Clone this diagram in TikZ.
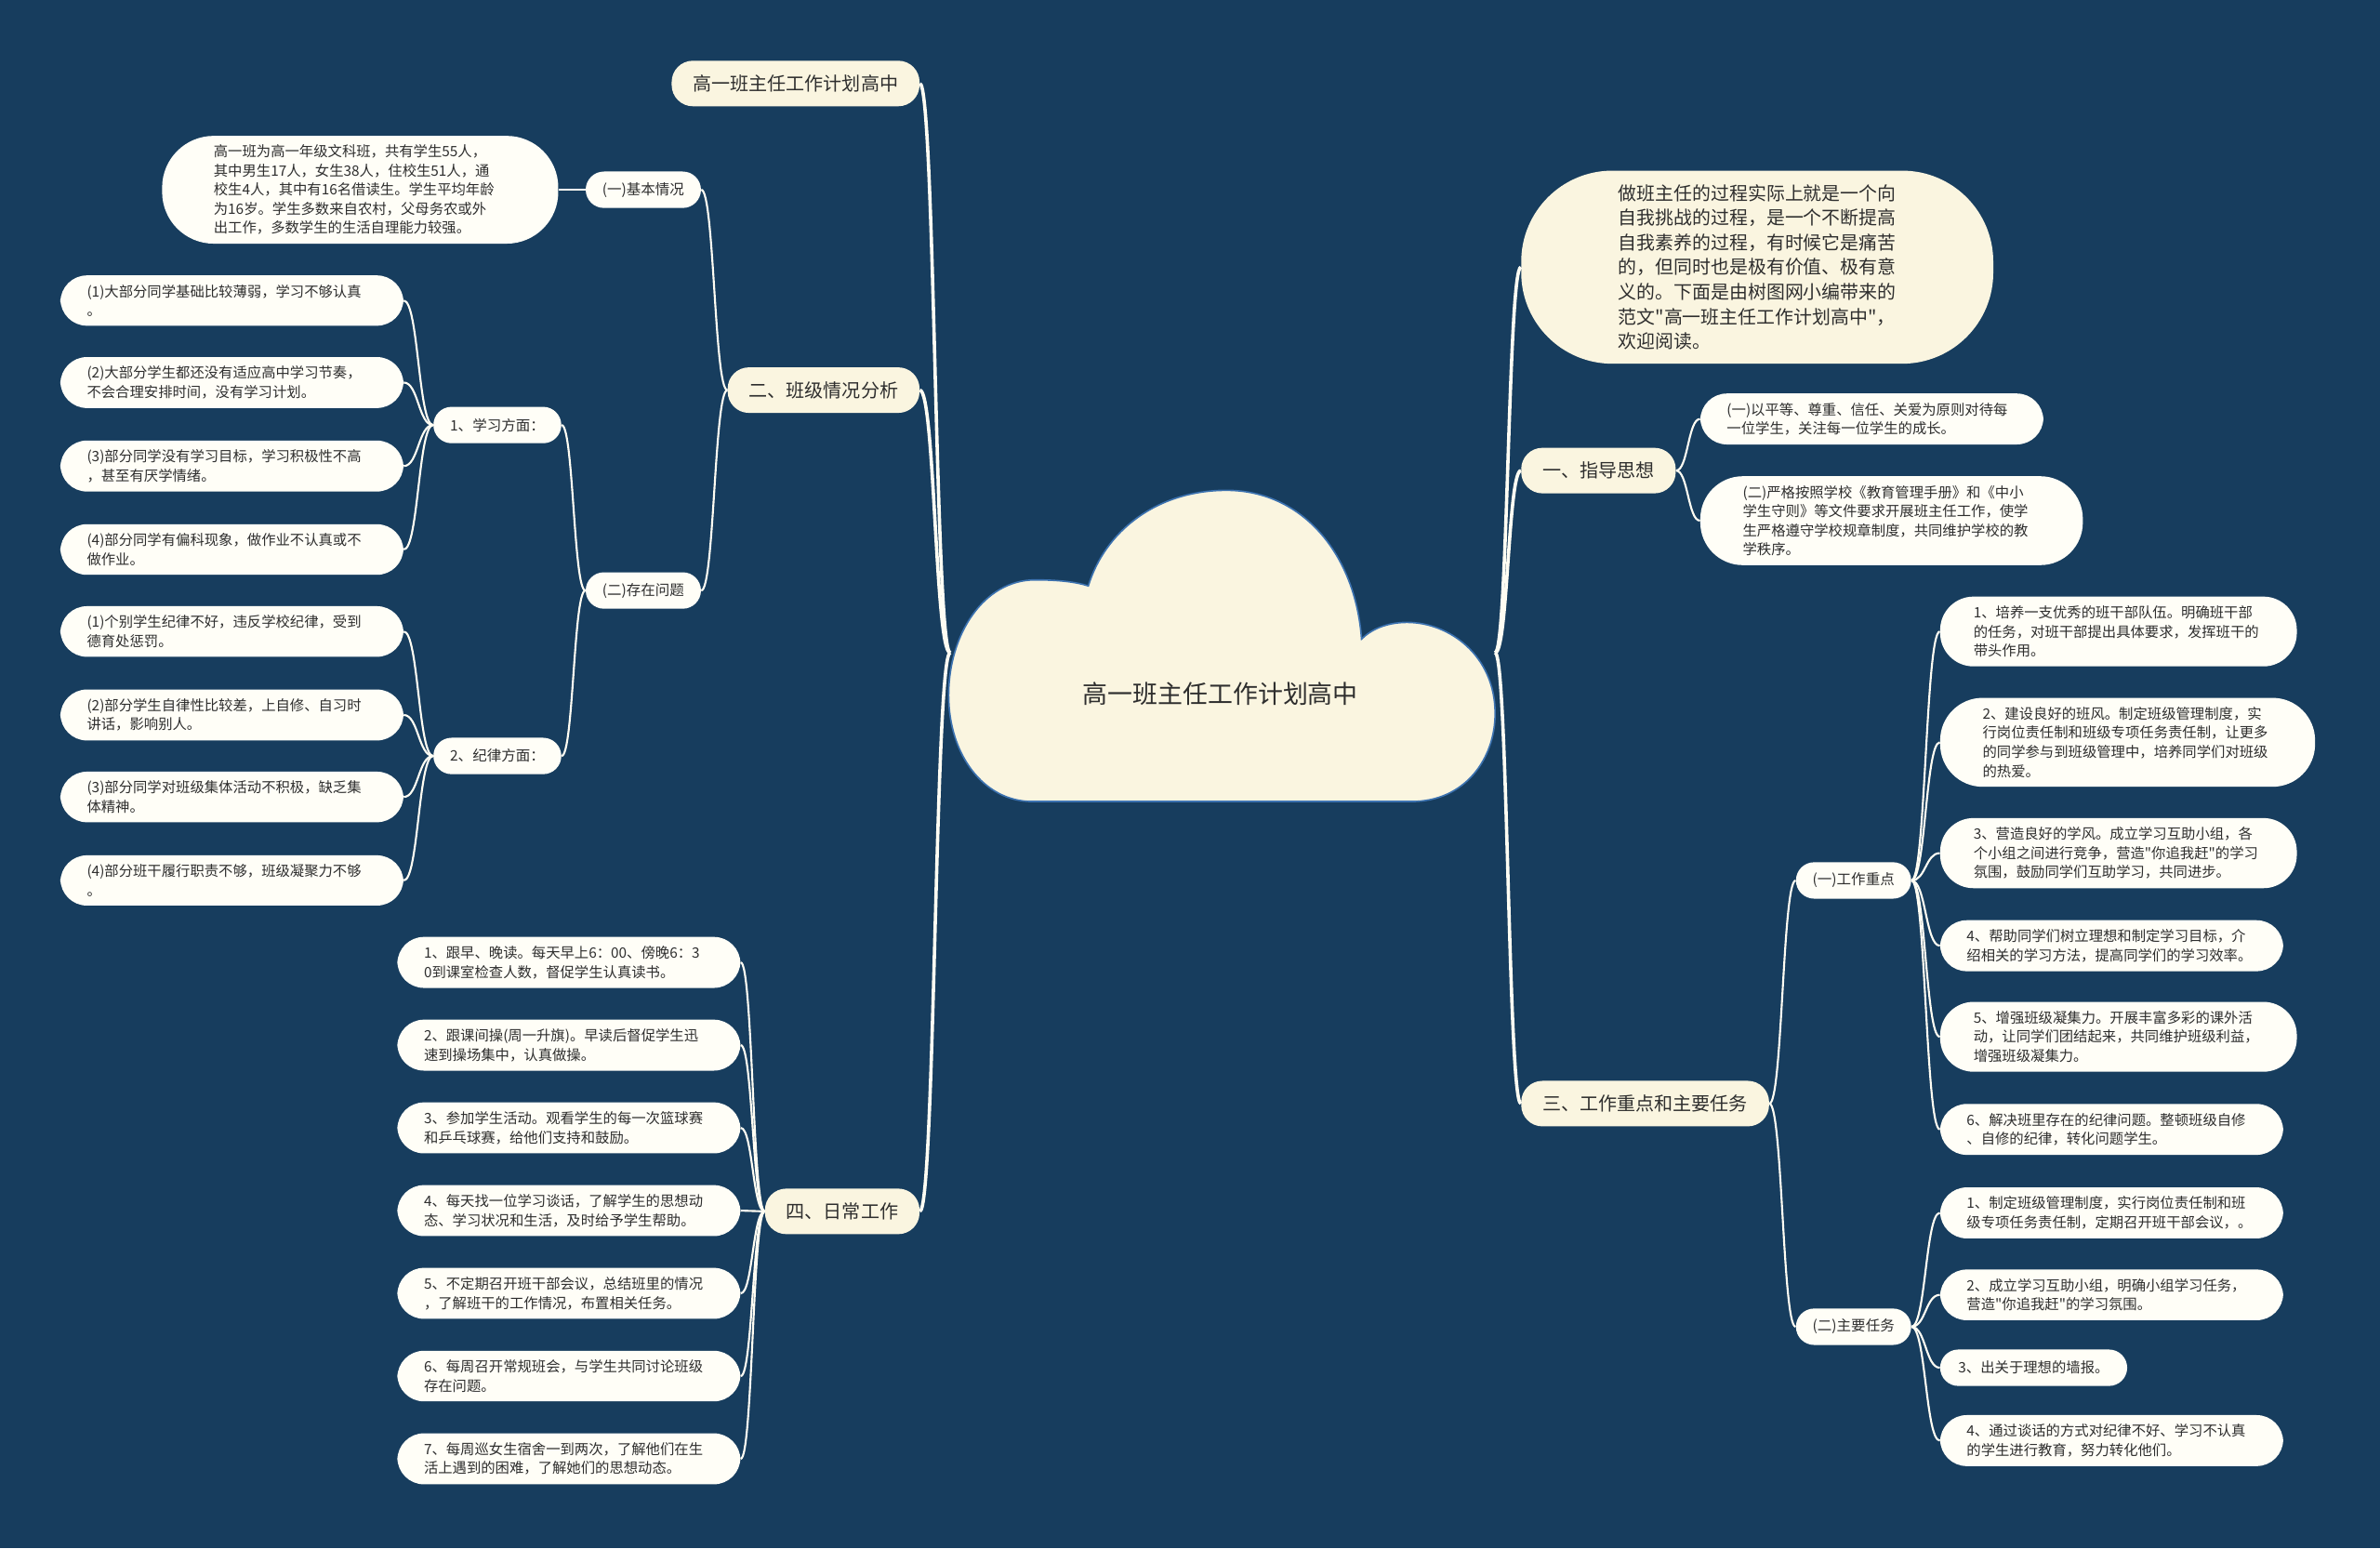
\documentclass[tikz,border=0pt]{standalone}
\usepackage{fontspec}
\setmainfont{Noto Sans CJK SC}[Ligatures=TeXOff]
\usetikzlibrary{calc}
\definecolor{cnavy}{HTML}{173D5E}
\definecolor{ccream}{HTML}{FAF5E0}
\definecolor{civory}{HTML}{FFFEF7}
\definecolor{cink}{HTML}{2E2E2E}
\definecolor{crim}{HTML}{3C72B0}
\definecolor{cwire}{HTML}{FFFDF3}
\tikzset{
  every picture/.style={x=1pt, y=1pt},
  every node/.style={text=cink},
  main/.style={fill=ccream, rounded corners=14pt, minimum height=30pt, inner xsep=14pt, font=\fontsize{12.3}{15}\selectfont},
  bubble/.style={fill=ccream, rounded corners=60pt, inner xsep=64pt, inner ysep=9pt, align=left, font=\fontsize{12.2}{16.3}\selectfont},
  sub/.style={fill=civory, rounded corners=12pt, minimum height=24pt, inner xsep=11pt, font=\fontsize{9.5}{12}\selectfont},
  leaf/.style={fill=civory, rounded corners=#1, inner xsep=#1, inner ysep=6pt, text width=191pt, align=left, font=\fontsize{9.4}{12.6}\selectfont},
  leaf/.default=17.5pt,
  link/.style={draw=cwire, line width=1.3pt, to path={.. controls ($(\tikztostart)!.5!(\tikztotarget|-\tikztostart)$) and ($(\tikztotarget)!.5!(\tikztostart|-\tikztotarget)$) .. (\tikztotarget)}},
  trunk/.style={link, line width=2.2pt},
}

\begin{document}
\begin{tikzpicture}
  \fill[cnavy] (0,0) rectangle (1568,-1020);
  \useasboundingbox (0,0) rectangle (1568,-1020);

  % centre cloud
  \draw[crim, line width=1pt, fill=ccream]
    (680,-528) -- (930,-528)
    .. controls (965,-528) and (985,-500) .. (985,-470)
    .. controls (985,-432) and (955,-410) .. (927,-410)
    .. controls (913,-410) and (903,-415) .. (897,-421)
    .. controls (893,-365) and (858,-323) .. (808,-323)
    .. controls (762,-323) and (728,-350) .. (717,-386)
    .. controls (708,-383) and (695,-382) .. (682,-382)
    .. controls (648,-382) and (625,-418) .. (625,-458)
    .. controls (625,-497) and (648,-528) .. (680,-528) -- cycle;
  \node[font=\fontsize{16.5}{20}\selectfont] (root) at (804,-457) {高一班主任工作计划高中};
  \coordinate (hubL) at (626,-430);
  \coordinate (hubR) at (985,-430);

  % left side
  \node[main, anchor=east] (top) at (606,-55) {高一班主任工作计划高中};
  \node[main, anchor=east] (class) at (606,-257) {二、班级情况分析};
  \node[main, anchor=east] (daily) at (606,-798) {四、日常工作};
  \draw[trunk] (hubL) to (top.east);
  \draw[trunk] (hubL) to (class.east);
  \draw[trunk] (hubL) to (daily.east);

  \node[sub, anchor=east] (basic) at (462,-125) {(一)基本情况};
  \node[sub, anchor=east] (issue) at (462,-389) {(二)存在问题};
  \draw[link] (class.west) to (basic.east);
  \draw[link] (class.west) to (issue.east);
  \node[leaf=34pt, text width=193pt, anchor=east, font=\fontsize{9.4}{12.5}\selectfont] (facts) at (368,-125)
    {高一班为高一年级文科班，共有学生55人，\\其中男生17人，女生38人，住校生51人，通\\校生4人，其中有16名借读生。学生平均年龄\\为16岁。学生多数来自农村，父母务农或外\\出工作，多数学生的生活自理能力较强。};
  \draw[link] (basic.west) to (facts.east);

  \node[sub, anchor=east] (study) at (370,-280) {1、学习方面：};
  \node[sub, anchor=east] (rules) at (370,-498) {2、纪律方面：};
  \draw[link] (issue.west) to (study.east);
  \draw[link] (issue.west) to (rules.east);

  \node[leaf, anchor=east] (st1) at (266,-198) {(1)大部分同学基础比较薄弱，学习不够认真\\。};
  \node[leaf, anchor=east] (st2) at (266,-252) {(2)大部分学生都还没有适应高中学习节奏，\\不会合理安排时间，没有学习计划。};
  \node[leaf, anchor=east] (st3) at (266,-307) {(3)部分同学没有学习目标，学习积极性不高\\，甚至有厌学情绪。};
  \node[leaf, anchor=east] (st4) at (266,-362) {(4)部分同学有偏科现象，做作业不认真或不\\做作业。};
  \node[leaf, anchor=east] (ru1) at (266,-416) {(1)个别学生纪律不好，违反学校纪律，受到\\德育处惩罚。};
  \node[leaf, anchor=east] (ru2) at (266,-471) {(2)部分学生自律性比较差，上自修、自习时\\讲话，影响别人。};
  \node[leaf, anchor=east] (ru3) at (266,-525) {(3)部分同学对班级集体活动不积极，缺乏集\\体精神。};
  \node[leaf, anchor=east] (ru4) at (266,-580) {(4)部分班干履行职责不够，班级凝聚力不够\\。};
  \foreach \i in {1,...,4}{
    \draw[link] (study.west) to (st\i.east);
    \draw[link] (rules.west) to (ru\i.east);
  }

  \foreach \t [count=\i] in {
    {1、跟早、晚读。每天早上6：00、傍晚6：3\\0到课室检查人数，督促学生认真读书。},
    {2、跟课间操(周一升旗)。早读后督促学生迅\\速到操场集中，认真做操。},
    {3、参加学生活动。观看学生的每一次篮球赛\\和乒乓球赛，给他们支持和鼓励。},
    {4、每天找一位学习谈话，了解学生的思想动\\态、学习状况和生活，及时给予学生帮助。},
    {5、不定期召开班干部会议，总结班里的情况\\，了解班干的工作情况，布置相关任务。},
    {6、每周召开常规班会，与学生共同讨论班级\\存在问题。},
    {7、每周巡女生宿舍一到两次，了解他们在生\\活上遇到的困难，了解她们的思想动态。}}{
    \node[leaf, anchor=east] (dy\i) at (488,{-634-(\i-1)*54.5}) {\t};
    \draw[link] (daily.west) to (dy\i.east);
  }

  % right side
  \node[bubble, anchor=west] (intro) at (1002,-176)
    {做班主任的过程实际上就是一个向\\自我挑战的过程，是一个不断提高\\自我素养的过程，有时候它是痛苦\\的，但同时也是极有价值、极有意\\义的。下面是由树图网小编带来的\\范文"高一班主任工作计划高中"，\\欢迎阅读。};
  \node[main, anchor=west] (guide) at (1002,-310) {一、指导思想};
  \node[main, anchor=west] (tasks) at (1002,-727) {三、工作重点和主要任务};
  \draw[trunk] (hubR) to (intro.west);
  \draw[trunk] (hubR) to (guide.west);
  \draw[trunk] (hubR) to (tasks.west);

  \node[leaf, anchor=west] (gd1) at (1120,-276) {(一)以平等、尊重、信任、关爱为原则对待每\\一位学生，关注每一位学生的成长。};
  \node[leaf=28pt, text width=196pt, anchor=west] (gd2) at (1120,-343) {(二)严格按照学校《教育管理手册》和《中小\\学生守则》等文件要求开展班主任工作，使学\\生严格遵守学校规章制度，共同维护学校的教\\学秩序。};
  \draw[link] (guide.east) to (gd1.west);
  \draw[link] (guide.east) to (gd2.west);

  \node[sub, anchor=west] (focus) at (1183,-580) {(一)工作重点};
  \node[sub, anchor=west] (duty) at (1183,-874) {(二)主要任务};
  \draw[link] (tasks.east) to (focus.west);
  \draw[link] (tasks.east) to (duty.west);

  \foreach \y/\r/\t [count=\i] in {
    416/22pt/{1、培养一支优秀的班干部队伍。明确班干部\\的任务，对班干部提出具体要求，发挥班干的\\带头作用。},
    489/28pt/{2、建设良好的班风。制定班级管理制度，实\\行岗位责任制和班级专项任务责任制，让更多\\的同学参与到班级管理中，培养同学们对班级\\的热爱。},
    562/22pt/{3、营造良好的学风。成立学习互助小组，各\\个小组之间进行竞争，营造"你追我赶"的学习\\氛围，鼓励同学们互助学习，共同进步。},
    623/17.5pt/{4、帮助同学们树立理想和制定学习目标，介\\绍相关的学习方法，提高同学们的学习效率。},
    683/22pt/{5、增强班级凝集力。开展丰富多彩的课外活\\动，让同学们团结起来，共同维护班级利益，\\增强班级凝集力。},
    744/17.5pt/{6、解决班里存在的纪律问题。整顿班级自修\\、自修的纪律，转化问题学生。}}{
    \node[leaf=\r, anchor=west] (fc\i) at (1278,-\y) {\t};
    \draw[link] (focus.east) to (fc\i.west);
  }

  \node[leaf, anchor=west] (dt1) at (1278,-799) {1、制定班级管理制度，实行岗位责任制和班\\级专项任务责任制，定期召开班干部会议，。};
  \node[leaf, anchor=west] (dt2) at (1278,-853) {2、成立学习互助小组，明确小组学习任务，\\营造"你追我赶"的学习氛围。};
  \node[leaf=12pt, text width={}, minimum height=24pt, anchor=west] (dt3) at (1278,-901) {3、出关于理想的墙报。};
  \node[leaf, anchor=west] (dt4) at (1278,-949) {4、通过谈话的方式对纪律不好、学习不认真\\的学生进行教育，努力转化他们。};
  \foreach \i in {1,...,4}
    \draw[link] (duty.east) to (dt\i.west);
\end{tikzpicture}
\end{document}
